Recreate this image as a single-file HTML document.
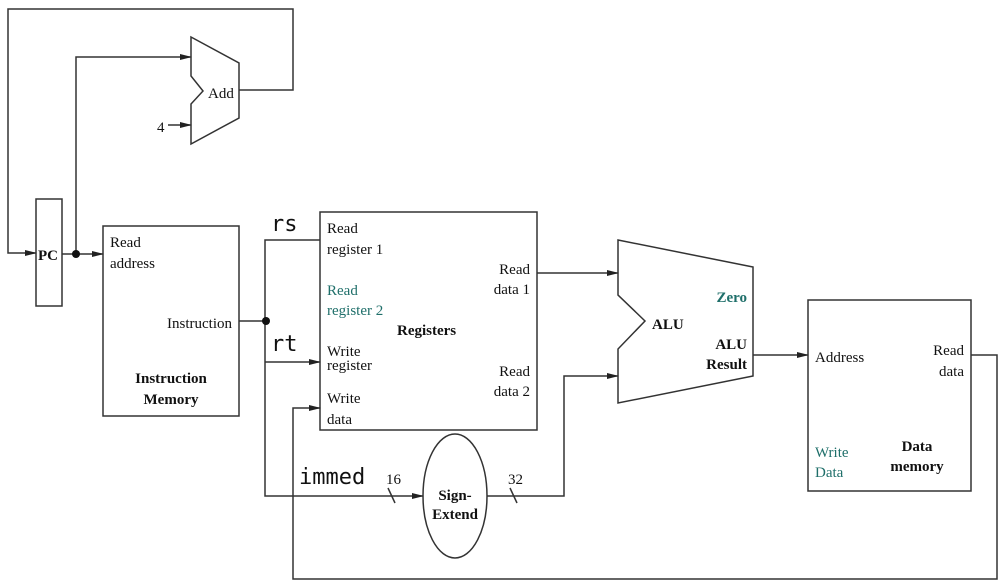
<!DOCTYPE html>
<html><head><style>
html,body{margin:0;padding:0;background:#fff;}
svg{display:block;}
text{font-family:"Liberation Serif",serif;font-size:15px;fill:#111;}
.b{font-weight:bold;}
.t{fill:#1f6f6a;}
.m{font-family:"DejaVu Sans Mono","Liberation Mono",monospace;font-size:22px;}
</style></head><body>
<svg width="1006" height="588" viewBox="0 0 1006 588" xmlns="http://www.w3.org/2000/svg">
<defs><marker id="a" markerWidth="12" markerHeight="6" refX="11" refY="3" orient="auto" markerUnits="userSpaceOnUse"><path d="M0,0 L12,3 L0,6 z" fill="#222"/></marker></defs>
<g fill="none" stroke="#333" stroke-width="1.5">
<polyline points="239,90 293,90 293,9 8,9 8,253 36,253" marker-end="url(#a)"/>
<polyline points="76,254 76,57 191,57" marker-end="url(#a)"/>
<line x1="168" y1="125" x2="191" y2="125" marker-end="url(#a)"/>
<polygon points="191,37 239,63 239,118 191,144 191,104 203,91 191,76"/>
<rect x="36" y="199" width="26" height="107"/>
<line x1="62" y1="254" x2="103" y2="254" marker-end="url(#a)"/>
<rect x="103" y="226" width="136" height="190"/>
<line x1="239" y1="321" x2="266" y2="321"/>
<polyline points="320,240 265,240 265,496 423,496" marker-end="url(#a)"/>
<line x1="265" y1="362" x2="320" y2="362" marker-end="url(#a)"/>
<rect x="320" y="212" width="217" height="218"/>
<polyline points="971,355 997,355 997,579 293,579 293,408 320,408" marker-end="url(#a)"/>
<ellipse cx="455" cy="496" rx="32" ry="62"/>
<polyline points="487,496 564,496 564,376 618,376" marker-end="url(#a)"/>
<line x1="537" y1="273" x2="618" y2="273" marker-end="url(#a)"/>
<polygon points="618,240 753,267 753,376 618,403 618,349 645,321 618,295"/>
<line x1="753" y1="355" x2="808" y2="355" marker-end="url(#a)"/>
<rect x="808" y="300" width="163" height="191"/>
<line x1="388" y1="488" x2="395" y2="503"/>
<line x1="510" y1="488" x2="517" y2="503"/>
</g>
<circle cx="76" cy="254" r="4" fill="#111"/>
<circle cx="266" cy="321" r="4" fill="#111"/>
<text x="208" y="98">Add</text>
<text x="157" y="132">4</text>
<text x="38" y="260" class="b">PC</text>
<text x="110" y="247">Read</text>
<text x="110" y="268">address</text>
<text x="232" y="328" text-anchor="end">Instruction</text>
<text x="171" y="383" class="b" text-anchor="middle">Instruction</text>
<text x="171" y="404" class="b" text-anchor="middle">Memory</text>
<text x="271" y="231" class="m">rs</text>
<text x="271" y="351" class="m">rt</text>
<text x="299" y="484" class="m">immed</text>
<text x="327" y="233">Read</text>
<text x="327" y="254">register 1</text>
<text x="327" y="295" class="t">Read</text>
<text x="327" y="315" class="t">register 2</text>
<text x="397" y="335" class="b">Registers</text>
<text x="327" y="356">Write</text>
<text x="327" y="370">register</text>
<text x="327" y="403">Write</text>
<text x="327" y="424">data</text>
<text x="530" y="274" text-anchor="end">Read</text>
<text x="530" y="294" text-anchor="end">data 1</text>
<text x="530" y="376" text-anchor="end">Read</text>
<text x="530" y="396" text-anchor="end">data 2</text>
<text x="386" y="484">16</text>
<text x="508" y="484">32</text>
<text x="455" y="500" class="b" text-anchor="middle">Sign-</text>
<text x="455" y="519" class="b" text-anchor="middle">Extend</text>
<text x="652" y="329" class="b">ALU</text>
<text x="747" y="302" class="b t" text-anchor="end">Zero</text>
<text x="747" y="349" class="b" text-anchor="end">ALU</text>
<text x="747" y="369" class="b" text-anchor="end">Result</text>
<text x="815" y="362">Address</text>
<text x="964" y="355" text-anchor="end">Read</text>
<text x="964" y="376" text-anchor="end">data</text>
<text x="815" y="457" class="t">Write</text>
<text x="815" y="477" class="t">Data</text>
<text x="917" y="451" class="b" text-anchor="middle">Data</text>
<text x="917" y="471" class="b" text-anchor="middle">memory</text>
</svg>
</body></html>
